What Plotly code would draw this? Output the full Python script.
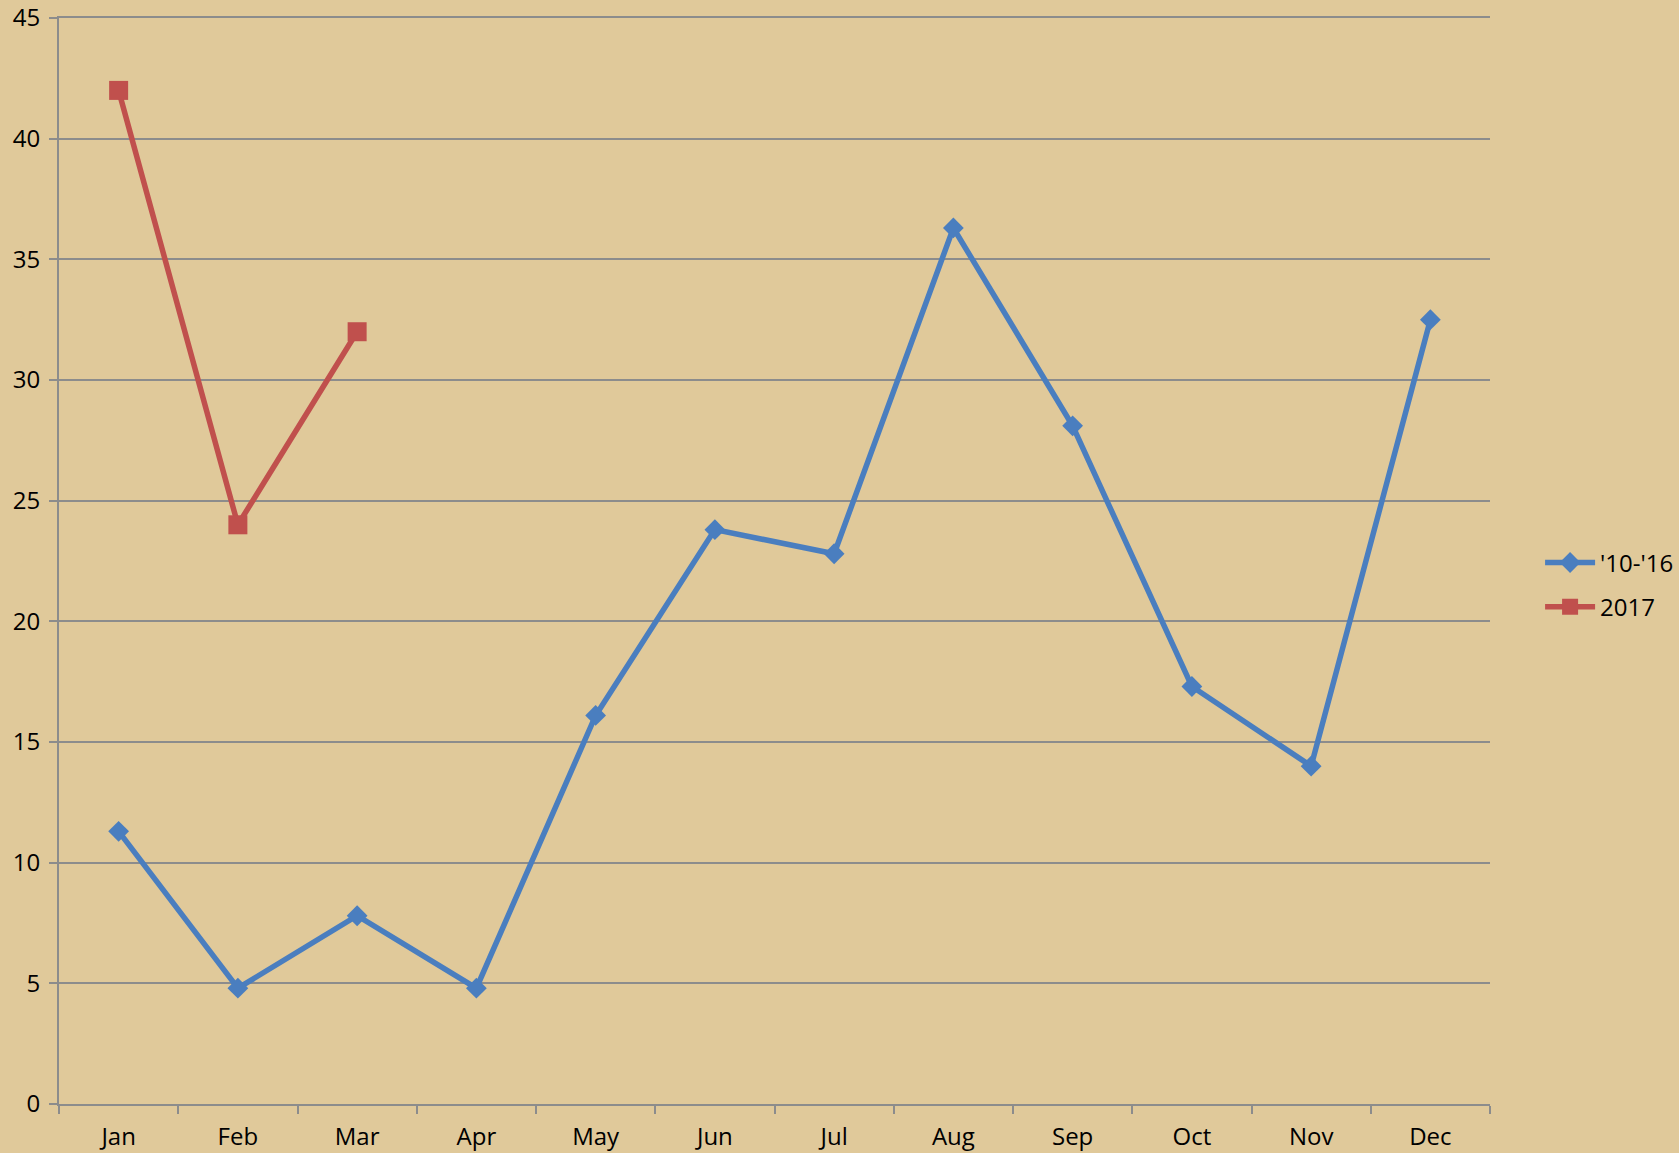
import plotly.graph_objects as go

months = ["Jan", "Feb", "Mar", "Apr", "May", "Jun", "Jul", "Aug", "Sep", "Oct", "Nov", "Dec"]
avg_10_16 = [11.3, 4.8, 7.8, 4.8, 16.1, 23.8, 22.8, 36.3, 28.1, 17.3, 14.0, 32.5]
months_2017 = ["Jan", "Feb", "Mar"]
vals_2017 = [42, 24, 32]

BG = "#E0C99A"
BLUE = "#4A7EBF"
RED = "#C0504D"
GRID = "#8C8C8C"
FONT = "Open Sans, Liberation Sans, sans-serif"

fig = go.Figure()
fig.add_trace(go.Scatter(
    x=months, y=avg_10_16, name="'10-'16", mode="lines+markers",
    legendgroup="a",
    line=dict(color=BLUE, width=5.5),
    marker=dict(symbol="diamond", size=16, color=BLUE),
))
fig.add_trace(go.Scatter(
    x=months_2017, y=vals_2017, name="2017", mode="lines+markers",
    legendgroup="b",
    line=dict(color=RED, width=5.5),
    marker=dict(symbol="square", size=19, color=RED),
))

fig.update_layout(
    width=1679, height=1153,
    paper_bgcolor=BG, plot_bgcolor=BG,
    margin=dict(l=59, r=189, t=18, b=49, autoexpand=False),
    font=dict(family=FONT, size=24, color="#000000"),
    showlegend=True,
    legend=dict(
        x=1.035, xanchor="left", y=0.478, yanchor="middle",
        bgcolor="rgba(0,0,0,0)", font=dict(size=24),
        traceorder="grouped", tracegroupgap=10, itemwidth=50,
    ),
)
fig.update_xaxes(
    type="category", categoryorder="array", categoryarray=months,
    range=[-0.5, 11.5], showgrid=False, automargin=False,
    showline=True, linecolor=GRID, linewidth=2, mirror=True,
    ticks="outside", tickson="boundaries", ticklen=8, tickwidth=2, tickcolor=GRID,
    ticklabelstandoff=10, zeroline=False,
)
fig.update_yaxes(
    range=[0, 45], dtick=5, tick0=0, automargin=False,
    showgrid=True, gridcolor=GRID, gridwidth=2,
    showline=True, linecolor=GRID, linewidth=2,
    ticks="outside", ticklen=8, tickwidth=2, tickcolor=GRID,
    zeroline=False, ticklabelstandoff=4, ticklabeloverflow="allow",
)

fig.write_html(
    "out.html",
    config=dict(displayModeBar=False),
    post_script="document.body.style.margin='0';document.body.style.overflow='hidden';",
)
